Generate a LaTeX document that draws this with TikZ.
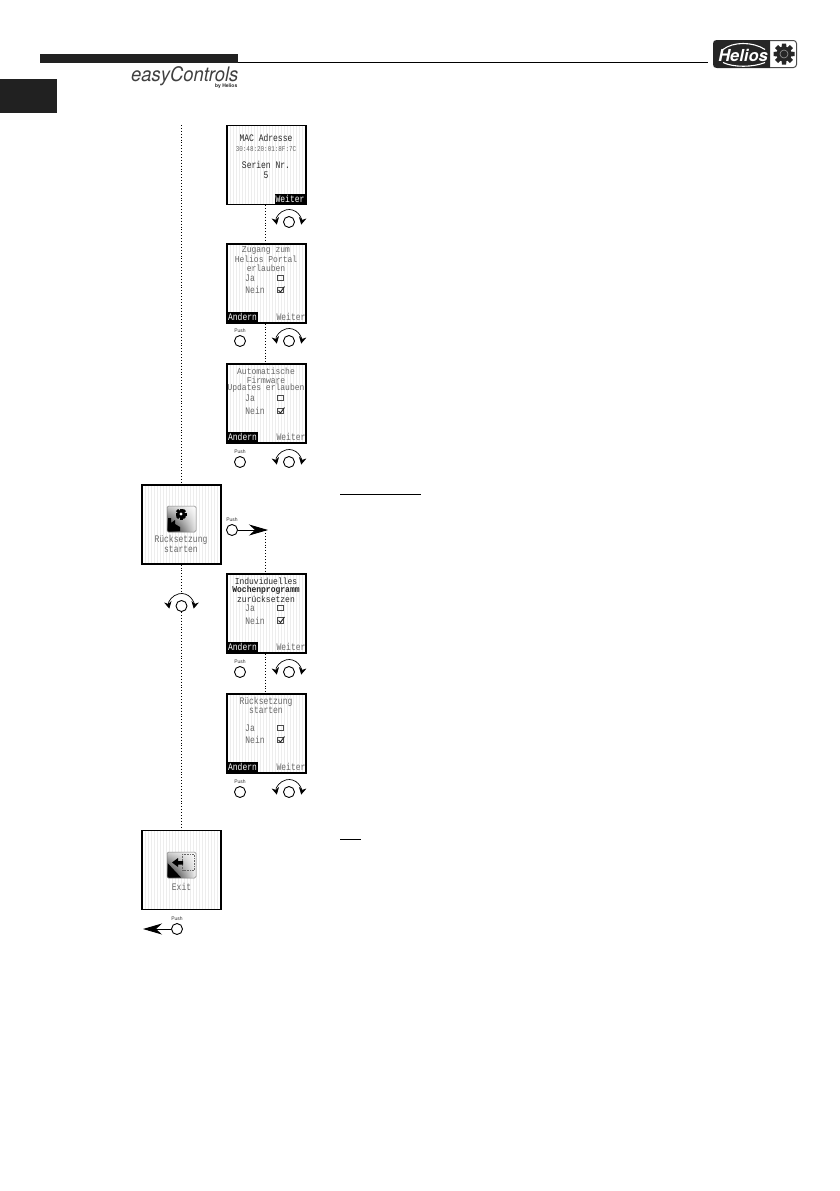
\documentclass[tikz,border=0pt]{standalone}
\usepackage{fontspec}
\usetikzlibrary{arrows.meta,shadings}
\newfontfamily\lcd[FakeStretch=0.8]{Liberation Mono}
\newfontfamily\lcdn[FakeStretch=0.89]{Liberation Mono}
\newfontfamily\hv{TeX Gyre Heros}
\newfontfamily\hvn[FakeStretch=0.92]{TeX Gyre Heros}
\definecolor{ink}{gray}{0.13}
\tikzset{
  lcdtext/.style={inner sep=0pt,text=black!60,font=\lcd\fontsize{10}{10}\selectfont},
  lcdtight/.style={inner sep=0pt,text=black!60,font=\lcdn\fontsize{9}{9}\selectfont},
  lcddark/.style={inner sep=0pt,text=black!85,font=\lcd\fontsize{10}{10}\selectfont},
  softkey/.style={inner sep=0pt,fill=black,text=white,font=\lcd\fontsize{10}{10}\selectfont,minimum height=10pt,minimum width=30pt},
  softtext/.style={inner sep=0pt,text=black!60,font=\lcd\fontsize{10}{10}\selectfont},
  screenbox/.style={draw=black,line width=1.3pt,minimum width=79pt,minimum height=79pt,inner sep=0pt},
  knob/.style={circle,draw=black,line width=0.9pt,fill=white,minimum size=11pt,inner sep=0pt},
  pushlabel/.style={inner sep=0pt,text=black!80,font=\hv\fontsize{5}{5}\selectfont},
  flow/.style={dotted,line width=0.9pt,black},
  turn/.style={line width=0.7pt,{Stealth[length=7pt,width=7.5pt]}-{Stealth[length=7pt,width=7.5pt]}},
  pusharrow/.style={line width=0.9pt,-{Stealth[length=19pt,width=11pt,inset=6pt]}},
  chk/.style={draw=black!70,line width=0.6pt,minimum size=5.5pt,inner sep=0pt},
}
\newcommand{\lcdscreen}[3]{%
  \foreach \i in {-36,-33,...,36}{\draw[black!7,line width=0.8pt] ({#2+\i},{#3-39})--({#2+\i},{#3+39});}
  \node[screenbox] (#1) at (#2,#3) {};}
\newcommand{\rotary}[3]{%
  \node[knob] (#1) at (#2,#3) {};
  \draw[turn] ([shift={(192:12.5pt)}]#1.center) arc[start angle=192,end angle=-12,radius=12.5pt];}
\newcommand{\pushknob}[4]{%
  \node[knob] (#1) at (#2,#3) {};
  \node[pushlabel] (#4) at (#2,{#3-10.5}) {Push};}
\newcommand{\jaNein}[5]{%
  \node[\jnstyle] (#1ja) at (#2,#3) {Ja};
  \node[chk] (#1jb) at (280.5,#3) {};
  \node[\jnstyle] (#1ne) at (#4,#5) {Nein};
  \node[chk] (#1nb) at (280.5,#5) {};
  \draw[black!85,line width=0.9pt] ([shift={(-2,0)}]#1nb.center)--([shift={(0,2)}]#1nb.center)--([shift={(4,-3.5)}]#1nb.center);}
\newcommand{\softkeys}[2]{%
  \node[softkey] (#1a) at (242.5,#2) {Andern};
  \node[softtext] (#1w) at (291,#2) {Weiter};}
\begin{document}
\begin{tikzpicture}[x=1pt,y=-1pt]
\useasboundingbox (0,0) rectangle (839,1191);
\fill[white] (0,0) rectangle (839,1191);
% header
\fill[ink] (40,54) rectangle (238,63);
\draw[black,line width=0.8pt] (238,62.5) -- (708,62.5);
\fill[ink] (0,79) rectangle (57,113);
\node[inner sep=0pt,anchor=base east,text depth=0pt,text=black!75,font=\hvn\itshape\fontsize{20}{20}\selectfont] (easy) at (238.5,81.7) {easyControls};
\node[inner sep=0pt,anchor=east,text=black!85,font=\hv\bfseries\fontsize{5}{5}\selectfont] (byh) at (237.5,86.5) {by Helios};
% Helios logo
\fill[black!85] (713,44) .. controls (713,41) and (714,40) .. (717,40) -- (770,40) -- (770,68) -- (717,68) .. controls (714,68) and (713,67) .. (713,64) -- cycle;
\draw[black!70,line width=1pt,rounded corners=3pt] (770,40.5) -- (796.5,40.5) -- (796.5,67.5) -- (770,67.5);
\draw[white,line width=1.1pt] (723,49.5) .. controls (733,41.5) and (753,41.5) .. (765,49.5);
\draw[white,line width=1.1pt] (723,62.5) .. controls (733,67.5) and (753,67.5) .. (765,62.5);
\node[inner sep=0pt,text=white,font=\hv\bfseries\itshape\fontsize{16.5}{16.5}\selectfont] (helios) at (743,55) {Helios};
\foreach \a in {0,45,...,315}{\fill[black!85,rotate around={\a:(784,54)}] (781.5,54) -- (781.8,43.5) -- (786.2,43.5) -- (786.5,54) -- cycle;}
\fill[black!85] (784,54) circle[radius=7.5pt];
\draw[black!40,line width=0.6pt] (784,54) circle[radius=4pt];
% left column screens
\lcdscreen{reset}{181.5}{524.5}
\lcdscreen{exit}{181.5}{870}
% right column screens
\lcdscreen{mac}{266.5}{165}
\lcdscreen{portal}{266.5}{283.5}
\lcdscreen{firm}{266.5}{403.5}
\lcdscreen{woche}{266.5}{613.5}
\lcdscreen{start}{266.5}{733.5}
% screen 1
\node[lcddark] (m1) at (266,138) {MAC Adresse};
\node[lcdtext,font=\lcd\fontsize{7.4}{8}\selectfont] (m2) at (266,149) {30:48:20:01:8F:7C};
\node[lcddark] (m3) at (266,165) {Serien Nr.};
\node[lcddark] (m4) at (266,175) {5};
\node[softkey] (mw) at (290,198.5) {Weiter};
% screen 2
\node[lcdtight] (p1) at (266,250.5) {Zugang zum};
\node[lcdtight] (p2) at (266,259.5) {Helios Portal};
\node[lcdtight] (p3) at (266,268.5) {erlauben};
\newcommand{\jnstyle}{lcdtext}
\jaNein{p}{250}{278}{255}{290}
\softkeys{p}{317}
% screen 3
\node[lcdtight] (f1) at (266,371.5) {Automatische};
\node[lcdtight] (f2) at (266,380) {Firmware};
\node[lcdtight] (f3) at (266,388.5) {Updates erlauben};
\jaNein{f}{250}{398}{255}{411}
\softkeys{f}{437}
% screen 4
\node[lcddark,font=\lcdn\fontsize{9}{9}\selectfont] (w1) at (266,581) {Induviduelles};
\node[lcddark,font=\lcdn\bfseries\fontsize{9}{9}\selectfont] (w2) at (266,590) {Wochenprogramm};
\node[lcddark,font=\lcdn\fontsize{9}{9}\selectfont] (w3) at (266,599) {zurücksetzen};
\jaNein{w}{250}{608}{255}{620.5}
\softkeys{w}{647}
% screen 5
\node[lcdtext] (s1) at (266,702) {Rücksetzung};
\node[lcdtext] (s2) at (266,710.5) {starten};
\jaNein{s}{250}{728}{255}{740}
\softkeys{s}{767}
% reset icon
\shade[lower left=black,upper right=white,lower right=black!10,upper left=black!18,rounded corners=1.5pt] (167,506) rectangle (196,532);
\draw[black!50,line width=0.5pt,rounded corners=1.5pt] (167,506) rectangle (196,532);
\foreach \a in {0,45,...,135}{\fill[black,rotate around={\a:(181,514)}] (175.5,512.5) rectangle (186.5,515.5);}
\fill[black] (181,514) circle[radius=3.8pt];
\fill[white] (181,514) circle[radius=1.6pt];
\fill[black] (168,531) -- (168,518) -- (171,518) -- (171,523) -- (175,520) -- (175,524) -- (180,527) -- (180,531) -- cycle;
\node[lcdtext] (r1) at (181,540) {Rücksetzung};
\node[lcdtext] (r2) at (181,549) {starten};
% exit icon
\shade[lower left=black,upper right=white,lower right=black!5,upper left=black!18,rounded corners=1.5pt] (167,852) rectangle (196,878);
\fill[black] (167.5,863) -- (181,877.5) -- (167.5,877.5) -- cycle;
\draw[black!50,line width=0.5pt,rounded corners=1.5pt] (167,852) rectangle (196,878);
\draw[black!60,densely dotted,line width=0.6pt] (182.5,854) rectangle (194,870.5);
\fill[black] (172,862.5) -- (178,858) -- (178,861) -- (183,861) -- (183,864.5) -- (178,864.5) -- (178,867) -- cycle;
\node[lcdtext] (e1) at (181.5,887) {Exit};
% controls
\rotary{k1}{289}{222}
\rotary{k2}{289}{341}
\rotary{k3}{289}{462}
\rotary{k4}{289}{672}
\rotary{k5}{289}{792}
\rotary{k6}{181.5}{606}
\pushknob{b2}{240}{341}{lb2}
\pushknob{b3}{240}{462}{lb3}
\pushknob{b4}{240}{672}{lb4}
\pushknob{b5}{240}{792}{lb5}
\pushknob{b6}{232}{530}{lb6}
\pushknob{b7}{177}{929}{lb7}
% connectors
\coordinate (topflow) at (181.5,125);
\coordinate (resettip) at (268,530);
\coordinate (exittip) at (143,929);
\coordinate (resettop) at (265.5,530);
\coordinate (k6top) at (181.5,592);
\coordinate (k6bot) at (181.5,612);
\draw[flow] (topflow) -- (reset.north);
\draw[flow] (reset.south) -- (k6top);
\draw[flow] (k6bot) -- (exit.north);
\draw[flow] ([xshift=-1pt]mac.south) -- ([xshift=-1pt]portal.north);
\draw[flow] ([xshift=-1pt]portal.south) -- ([xshift=-1pt]firm.north);
\draw[flow] ([xshift=-1pt]woche.south) -- ([xshift=-1pt]start.north);
\draw[flow] (resettop) -- ([xshift=-1pt]woche.north);
\draw[pusharrow] (b6) -- (resettip);
\draw[pusharrow] (b7) -- (exittip);
% underlines
\coordinate (u1a) at (340,494); \coordinate (u1b) at (421,494);
\coordinate (u2a) at (340,839); \coordinate (u2b) at (361,839);
\draw[black,line width=0.8pt] (u1a) -- (u1b);
\draw[black,line width=0.8pt] (u2a) -- (u2b);
\end{tikzpicture}
\end{document}
